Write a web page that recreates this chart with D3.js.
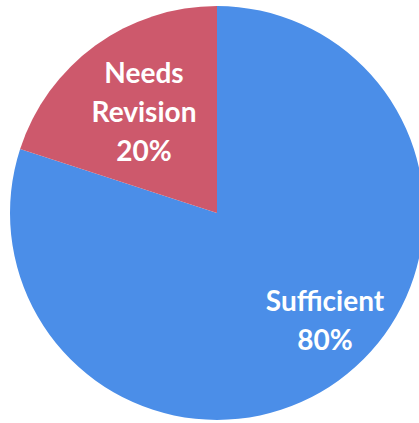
<!DOCTYPE html>
<html>
<head>
<meta charset="utf-8">
<script src="https://cdn.jsdelivr.net/npm/d3@7"></script>
<style>
  body { margin: 0; background: #fff; }
  svg { display: block; }
</style>
</head>
<body>
<svg></svg>
<script>
// data
var categories = ["Sufficient", "Needs Revision"];
var percents = [80, 20];
var colors = ["#4b8ee8", "#cd596c"];

var width = 419, height = 423;
var cx = 217, cy = 213, radius = 207;

var svg = d3.select("svg")
    .attr("width", width)
    .attr("height", height);

var g = svg.append("g")
    .attr("transform", "translate(" + cx + "," + cy + ")");

var data = categories.map(function(c, i) { return {name: c, value: percents[i]}; });

// first slice starts at 12 o'clock and runs clockwise
var pie = d3.pie()
    .sort(null)
    .value(function(d) { return d.value; });

var arc = d3.arc()
    .innerRadius(0)
    .outerRadius(radius);

var color = d3.scaleOrdinal()
    .domain(categories)
    .range(colors);

var arcs = pie(data);

g.selectAll("path")
  .data(arcs)
  .enter()
  .append("path")
    .attr("d", arc)
    .attr("fill", function(d) { return color(d.data.name); });

// label positions: centroid of a bigger arc, nudged like the original
var labelArc = d3.arc()
    .innerRadius(0)
    .outerRadius(radius * 1.2);
var nudge = {"Sufficient": [35, 8], "Needs Revision": [0, 0]};

var labels = g.selectAll(".lbl")
  .data(arcs)
  .enter()
  .append("text")
    .attr("class", "lbl")
    .attr("text-anchor", "middle")
    .attr("fill", "#fff")
    .style("font-family", "Lato, 'Open Sans', sans-serif")
    .style("font-weight", "bold")
    .style("font-size", "28px")
    .attr("transform", function(d) {
      var c = labelArc.centroid(d), n = nudge[d.data.name];
      return "translate(" + (c[0] + n[0]) + "," + (c[1] + n[1]) + ")";
    });

labels.each(function(d) {
  var lines = d.data.name.split(" ");
  lines.push(d.data.value + "%");
  var t = d3.select(this);
  var lh = 39;
  var y0 = -(lines.length - 1) * lh / 2 + 9;
  lines.forEach(function(l, i) {
    t.append("tspan")
      .attr("x", 0)
      .attr("y", y0 + i * lh)
      .text(l);
  });
});
</script>
</body>
</html>
